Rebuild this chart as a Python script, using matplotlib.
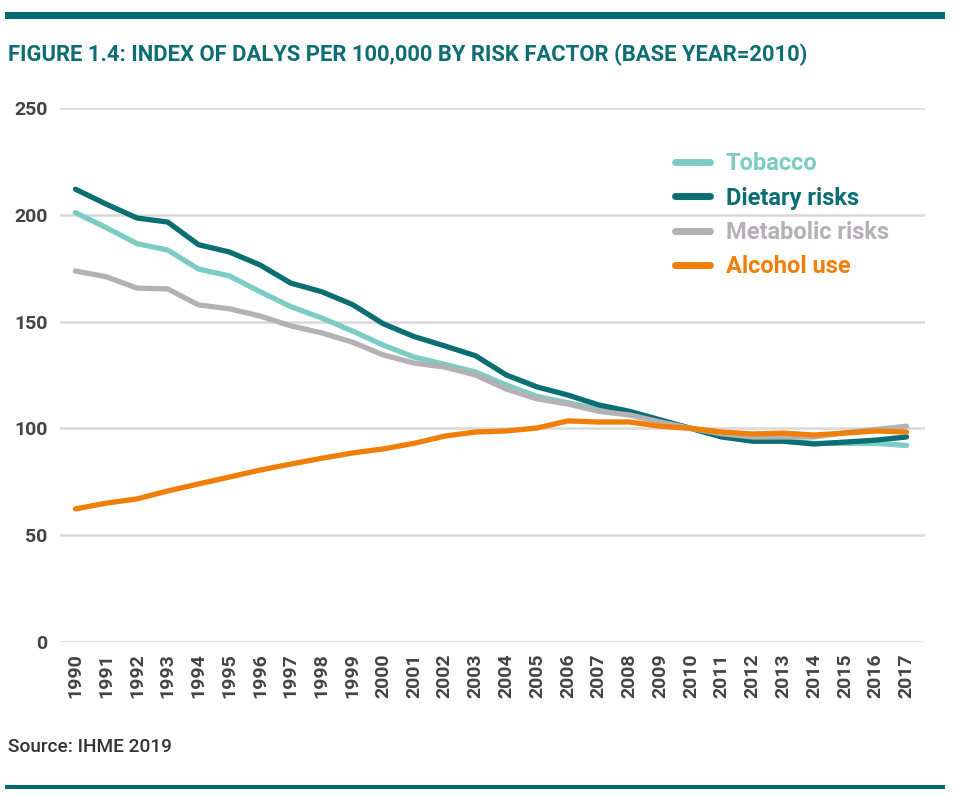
import matplotlib
matplotlib.use("Agg")
import matplotlib.pyplot as plt
from matplotlib.patches import Rectangle

years = list(range(1990, 2018))
tobacco = [201, 194, 186.5, 183.5, 174.6, 171.4, 164, 157, 151.7, 145.6, 139, 133.4, 130, 126.4,
           120.3, 115, 112, 109, 106.7, 103.5, 100, 96, 94.5, 94, 93, 93, 93, 92]
dietary = [212, 205, 198.5, 196.6, 186, 182.6, 176.5, 168, 164, 158, 149, 143, 138.6, 134,
           125, 119.4, 115.6, 111, 108, 104, 100, 96, 94, 94, 92.7, 93.6, 94.5, 96]
metabolic = [173.7, 171, 165.7, 165.3, 157.8, 156, 152.6, 148, 144.7, 140.4, 134.4, 130.6, 128.7, 125,
             118.4, 113.8, 111.4, 108, 106.3, 103, 100, 97.5, 96, 96, 96, 98, 99.5, 101]
alcohol = [62.3, 65, 67, 70.7, 74, 77.2, 80.5, 83.3, 86, 88.5, 90.4, 93, 96.4, 98.3,
           98.8, 100.2, 103.5, 103, 103, 101, 100, 98.3, 97.4, 97.8, 96.9, 97.8, 98.8, 98.3]
series_names = ["Tobacco", "Dietary risks", "Metabolic risks", "Alcohol use"]
series_values = [tobacco, dietary, metabolic, alcohol]
colors = ["#7DCCC4", "#0B6E72", "#B3B1B3", "#F07F09"]
yticks = [0, 50, 100, 150, 200, 250]

plt.rcParams['font.family'] = ['Roboto', 'DejaVu Sans']

fig = plt.figure(figsize=(9.58, 7.97), dpi=100)
W, H = 958, 797
ax = fig.add_axes([60 / W, 1 - 642 / H, (925 - 60) / W, (642 - 108) / H])

for name, vals, c in zip(series_names, series_values, colors):
    ax.plot(years, vals, color=c, lw=3.8, label=name, solid_capstyle='round', solid_joinstyle='round', zorder=3)

ax.set_xlim(1989.5, 2017.6)
ax.set_ylim(0, 250)
ax.set_yticks(yticks)
ax.set_xticks(years)
ax.set_xticklabels([str(y) for y in years], rotation=90, fontsize=14, fontweight='bold', color='#444444')
ax.set_yticklabels([str(v) for v in yticks], fontsize=14, fontweight='bold', color='#444444')
ax.tick_params(axis='both', length=0)
ax.tick_params(axis='y', pad=9)
ax.tick_params(axis='x', pad=8)
ax.grid(axis='y', color='#D9D9D9', lw=1.8, zorder=0)
ax.set_axisbelow(True)
for s in ax.spines.values():
    s.set_visible(False)

leg = ax.legend(loc='upper left', bbox_to_anchor=(0.711, 0.917), frameon=False,
                handlelength=1.5, handletextpad=0.65, labelspacing=0.48, labelcolor='linecolor',
                borderpad=0, borderaxespad=0,
                prop={'weight': 'bold', 'size': 17})
for h in leg.get_lines():
    h.set_linewidth(5)

fig.add_artist(Rectangle((5 / W, 1 - 19 / H), 940 / W, 7 / H, transform=fig.transFigure,
                         color='#006B6F', lw=0))
fig.add_artist(Rectangle((5 / W, 1 - 789 / H), 940 / W, 4 / H, transform=fig.transFigure,
                         color='#006B6F', lw=0))
fig.text(8 / W, 1 - 55 / H, "FIGURE 1.4: INDEX OF DALYS PER 100,000 BY RISK FACTOR (BASE YEAR=2010)",
         fontsize=15.8, fontweight='bold', color='#0E6E73', va='center', ha='left')
fig.text(8 / W, 1 - 747 / H, "Source: IHME 2019", fontsize=13.7, color='#333333', va='center', ha='left',
         fontweight='medium')

fig.savefig("out.png", dpi=100)
